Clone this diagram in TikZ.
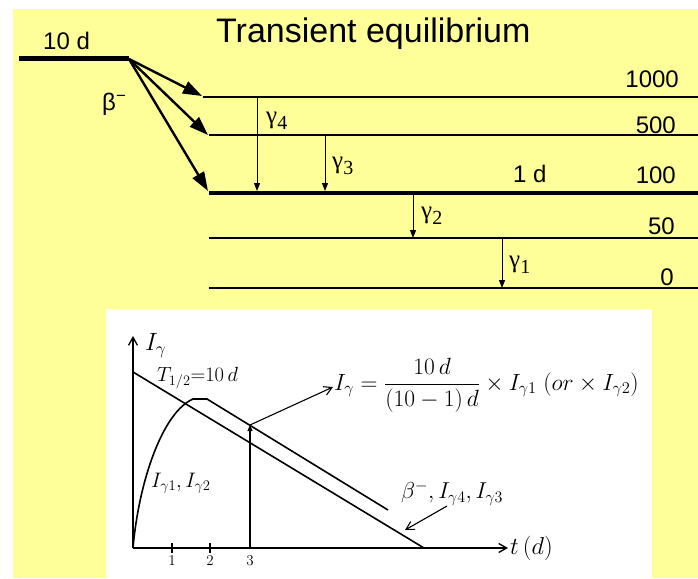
\RequirePackage{fix-cm}
\documentclass[tikz,border=0pt]{standalone}
\usepackage{amsmath}
\usepackage{fontspec}
\setmainfont{Liberation Sans}
\newfontfamily\serifgr{Liberation Serif}
\usetikzlibrary{arrows.meta}
\definecolor{bgyellow}{RGB}{255,255,153}
\newcommand{\gsub}[1]{{\serifgr\fontsize{25}{25}\selectfont γ\raisebox{-0.22em}{\fontsize{20}{20}\selectfont #1}}}
\begin{document}
\begin{tikzpicture}[x=1pt,y=-1pt,
  lvl/.style={line width=1.1pt},
  biglvl/.style={line width=4.5pt},
  betaarr/.style={line width=2.4pt,-{Triangle[length=19pt,width=13pt]}},
  gamarr/.style={line width=1pt,-{Triangle[length=8pt,width=6pt]}},
  lbl/.style={inner sep=0pt,font=\fontsize{24}{24}\selectfont},
  hand/.style={line width=1.6pt},
  hlbl/.style={inner sep=0pt,font=\fontsize{21}{21}\selectfont},
  harr/.style={line width=1.3pt,-{Straight Barb[length=8pt,width=9pt]}}]
\useasboundingbox (0,0) rectangle (698,578);
\fill[white] (0,0) rectangle (698,578);
\fill[bgyellow] (13,9) rectangle (698,578);
\fill[white] (106,309) rectangle (652,578);

% title and parent level
\node[inner sep=0pt,anchor=base west,font=\fontsize{34}{34}\selectfont] (title) at (216,43) {Transient equilibrium};
\coordinate (p0) at (19,59);
\coordinate (p1) at (129,59);
\draw[line width=5pt] (p0) -- (p1);
\node[lbl,anchor=base west] (tenD) at (43,50) {10 d};
\node[lbl,anchor=base west] (beta) at (102,110) {β\textsuperscript{−}};

% daughter levels
\coordinate (l1000a) at (203,97);  \coordinate (l1000b) at (698,97);
\coordinate (l500a) at (209,135);  \coordinate (l500b) at (698,135);
\coordinate (l100a) at (209,193);  \coordinate (l100b) at (698,193);
\coordinate (l50a) at (209,238);   \coordinate (l50b) at (698,238);
\coordinate (l0a) at (209,288);    \coordinate (l0b) at (698,288);
\draw[lvl] (l1000a) -- (l1000b);
\draw[lvl] (l500a) -- (l500b);
\draw[biglvl] (l100a) -- (l100b);
\draw[lvl] (l50a) -- (l50b);
\draw[lvl] (l0a) -- (l0b);

\node[lbl,anchor=base east] (e1000) at (679,87) {1000};
\node[lbl,anchor=base east] (e500) at (676,133) {500};
\node[lbl,anchor=base east] (e100) at (676,183) {100};
\node[lbl,anchor=base east] (e50) at (675,234) {50};
\node[lbl,anchor=base east] (e0) at (674,285) {0};
\node[lbl,anchor=base west] (oneD) at (513,182) {1 d};

% beta branches
\draw[betaarr] (p1) -- (202,96);
\draw[betaarr] (p1) -- (208,135);
\draw[betaarr] (p1) -- (208,191);

% gamma transitions
\coordinate (g4a) at (257,97);  \coordinate (g4b) at (257,191);
\coordinate (g3a) at (325,135); \coordinate (g3b) at (325,191);
\coordinate (g2a) at (413,195); \coordinate (g2b) at (413,238);
\coordinate (g1a) at (502,238); \coordinate (g1b) at (502,288);
\draw[gamarr] (g4a) -- (g4b);
\draw[gamarr] (g3a) -- (g3b);
\draw[gamarr] (g2a) -- (g2b);
\draw[gamarr] (g1a) -- (g1b);
\node[inner sep=0pt,anchor=west] (gam4) at (266,121) {\gsub{4}};
\node[inner sep=0pt,anchor=west] (gam3) at (332,166) {\gsub{3}};
\node[inner sep=0pt,anchor=west] (gam2) at (421,216) {\gsub{2}};
\node[inner sep=0pt,anchor=west] (gam1) at (509,265) {\gsub{1}};

% lower plot
\coordinate (O) at (133,548);
\coordinate (ytop) at (133,336);
\coordinate (xend) at (508,548);
\draw[harr] (O) -- (ytop);
\draw[harr] (O) -- (xend);
\node[inner sep=0pt,anchor=west,font=\fontsize{25}{25}\selectfont] (Iy) at (145,346) {$I_\gamma$};
\node[inner sep=0pt,anchor=west,font=\fontsize{24.5}{24.5}\selectfont] (tlab) at (510,548) {$t\,(d)$};
% ticks
\draw[line width=1.2pt] (172,543) -- (172,553);
\draw[line width=1.2pt] (210,543) -- (210,553);
\node[inner sep=0pt,font=\fontsize{15}{15}\selectfont] (t1) at (172,561) {$1$};
\node[inner sep=0pt,font=\fontsize{15}{15}\selectfont] (t2) at (210,561) {$2$};
\node[inner sep=0pt,font=\fontsize{15}{15}\selectfont] (t3) at (250,561) {$3$};
% parent decay line
\coordinate (s0) at (133,372);
\coordinate (s1) at (424,548);
\draw[hand] (s0) -- (s1);
% daughter gamma curve
\coordinate (c1) at (193,399);
\coordinate (c2) at (207,399);
\coordinate (c3) at (388,510);
\draw[hand] (O) .. controls (139,480) and (163,412) .. (c1) -- (c2) -- (c3);
% time 3 marker
\coordinate (m0) at (250,548);
\coordinate (m1) at (250,425);
\coordinate (m2) at (333,387);
\draw[line width=1.1pt,-{Triangle[length=6pt,width=5pt]}] (m0) -- (m1);
\draw[harr,line width=1.1pt] (m1) -- (m2);
% labels
\node[inner sep=0pt,anchor=west,font=\fontsize{20.5}{20.5}\selectfont] (thalf) at (157,378) {$T_{1/2} {=} 10\,d$};
\node[hlbl,anchor=west] (Ig12) at (151,483) {$I_{\gamma 1}, I_{\gamma 2}$};
\node[inner sep=0pt,anchor=west,font=\fontsize{23.5}{23.5}\selectfont] (form) at (334,385) {$I_\gamma = \dfrac{10\,d}{(10-1)\,d} \times I_{\gamma 1}\; (or \times I_{\gamma 2})$};
\node[inner sep=0pt,anchor=west,font=\fontsize{23}{23}\selectfont] (blab) at (401,493) {$\beta^-, I_{\gamma 4}, I_{\gamma 3}$};
\coordinate (b0) at (447,506);
\coordinate (b1) at (405,530);
\draw[harr,line width=1.1pt] (b0) -- (b1);
\end{tikzpicture}
\end{document}
